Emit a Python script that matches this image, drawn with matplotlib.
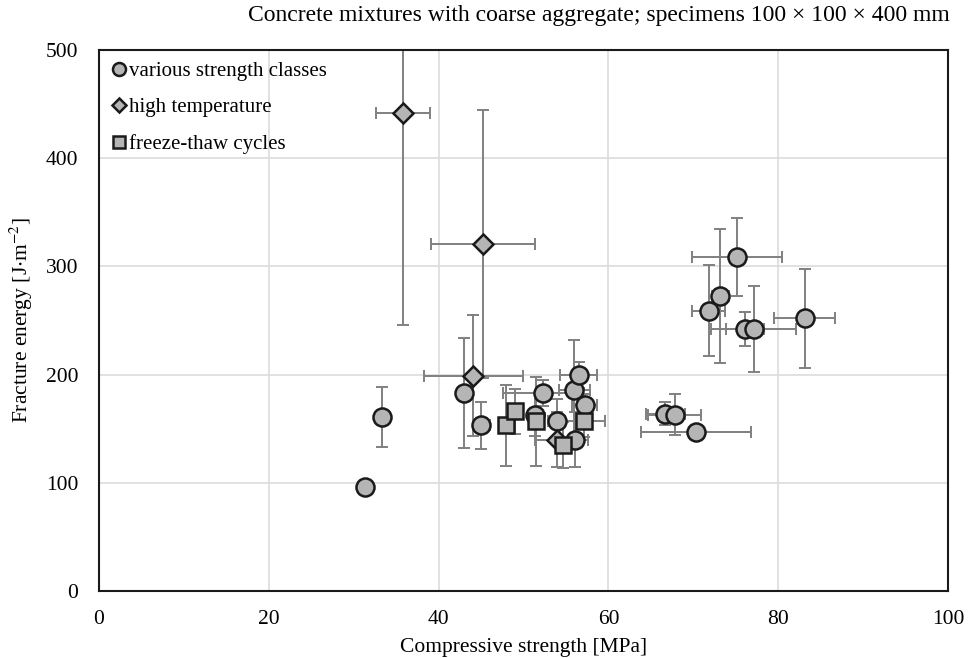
import numpy as np
from matplotlib import pyplot as plt

plt.rcParams['font.family'] = ['Liberation Serif', 'DejaVu Serif']
plt.rcParams['mathtext.fontset'] = 'stix'

# various strength classes
circ_x = [31.3, 33.3, 43.0, 45.0, 51.4, 52.3, 53.9, 56.0, 56.5, 57.2, 56.1,
          66.7, 67.8, 70.3, 71.8, 73.2, 75.1, 76.1, 77.1, 83.1]
circ_y = [96, 161, 183, 153, 163, 183, 157, 186, 200, 172, 140,
          164, 163, 147, 259, 273, 309, 242, 242, 252]
circ_xerr = [0, 0, 0, 1.0, 0, 4.7, 1.0, 1.8, 2.2, 1.5, 1.5,
             2.3, 3.1, 6.5, 1.9, 1.0, 5.3, 2.2, 5.0, 3.6]
circ_yerr = [0, 28, 51, 22, 20, 12, 20, 46, 12, 10, 25,
             11, 19, 0, 42, 62, 36, 16, 40, 46]

# high temperature
diam_x = [35.8, 45.2, 44.1, 53.9]
diam_y = [442, 321, 199, 140]
diam_xerr = [3.2, 6.1, 5.8, 2.6]
diam_yerr = [196, 124, 56, 25]

# freeze-thaw cycles
sq_x = [47.9, 49.0, 51.5, 57.1, 54.7]
sq_y = [153, 166, 157, 157, 135]
sq_xerr = [0, 0, 0, 2.5, 0]
sq_yerr = [37, 21, 41, 15, 21]

fig = plt.figure(figsize=(9.75, 6.58), dpi=100)
ax = fig.add_axes([0.1015, 0.1018, 0.8708, 0.8222])

ebk = dict(fmt='none', ecolor='#808080', elinewidth=1.4, capsize=4, capthick=1.4, zorder=2)
ax.errorbar(circ_x, circ_y, xerr=circ_xerr, yerr=circ_yerr, **ebk)
ax.errorbar(diam_x, diam_y, xerr=diam_xerr, yerr=diam_yerr, **ebk)
ax.errorbar(sq_x, sq_y, xerr=sq_xerr, yerr=sq_yerr, **ebk)

mk = dict(linestyle='none', markerfacecolor='#b5b5b5', markeredgecolor='#1a1a1a',
          markeredgewidth=1.8)
ax.plot(circ_x, circ_y, marker='o', markersize=13, label='various strength classes', zorder=3, **mk)
ax.plot(diam_x, diam_y, marker='D', markersize=10, label='high temperature', zorder=4, **mk)
ax.plot(sq_x, sq_y, marker='s', markersize=12, label='freeze-thaw cycles', zorder=5, **mk)

ax.set_xlim(0, 100)
ax.set_ylim(0, 500)
ax.set_xticks(np.arange(0, 101, 20))
ax.set_yticks(np.arange(0, 501, 100))
ax.grid(color='#dcdcdc', linewidth=1.2)
ax.set_axisbelow(True)
ax.tick_params(labelsize=15.5, length=0)
ax.tick_params(axis='x', pad=14)
ax.tick_params(axis='y', pad=15)
for s in ax.spines.values():
    s.set_color('#1a1a1a')
    s.set_linewidth(1.5)

ax.set_xlabel('Compressive strength [MPa]', fontsize=15.5, labelpad=6)
ax.set_ylabel('Fracture energy [J$\\cdot$m$^{-2}$]', fontsize=15.5, labelpad=8)
fig.text(0.614, 0.977,
         'Concrete mixtures with coarse aggregate; specimens 100 \u00d7 100 \u00d7 400 mm',
         fontsize=17, ha='center', va='center')

ax.legend(loc='upper left', frameon=False, fontsize=15, markerscale=0.72,
          handletextpad=0.1, handlelength=0.8, borderaxespad=0.15, labelspacing=0.8)

plt.savefig('out.png')
